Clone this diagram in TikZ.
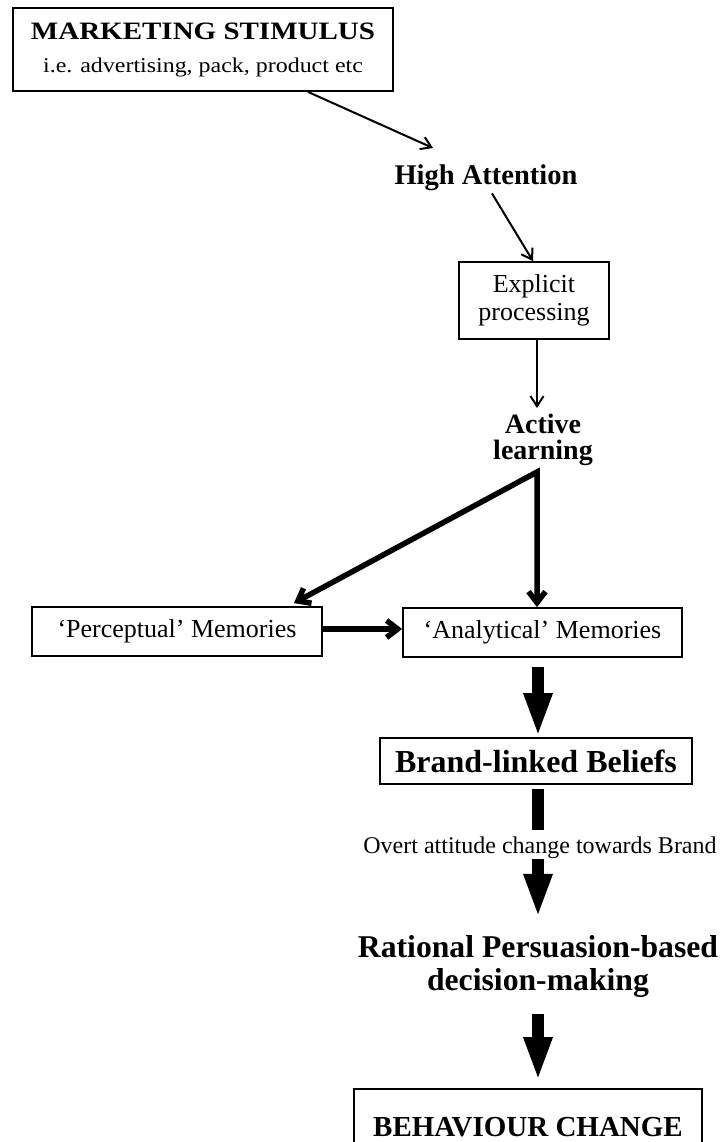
\documentclass[tikz,border=0pt]{standalone}
\usepackage{fontspec}
\setmainfont{Liberation Serif}
\usetikzlibrary{arrows.meta}
\begin{document}
\begin{tikzpicture}[x=1pt,y=-1pt,
  box/.style={draw, line width=1.8pt, inner sep=0pt, align=center},
  thinarrow/.style={line width=2pt, -{Straight Barb[length=10pt,width=13pt]}},
  medline/.style={line width=5.5pt},
  medtip/.tip={Straight Barb[length=11pt,width=17pt]},
  blockarrow/.style={line width=12.5pt, -{Triangle[length=44pt,width=26pt]}}
]
\useasboundingbox (0,0) rectangle (724,1142);

% nodes
\node[box, minimum width=380pt, minimum height=83pt, font=\fontsize{25}{33}\selectfont] (ms) at (203,49.5)
  {\scalebox{1.16}[1]{\bfseries MARKETING STIMULUS}\\\scalebox{1.14}[1]{\fontsize{21}{33}\selectfont i.e. advertising, pack, product etc}};
\node[anchor=base, inner sep=2pt, font=\fontsize{28.5}{30}\selectfont\bfseries] (ha) at (486,185) {High Attention};
\node[box, minimum width=150pt, minimum height=77pt, font=\fontsize{26}{28}\selectfont] (ep) at (534,300.5) {Explicit\\processing};
\node[align=center, inner xsep=2pt, inner ysep=6pt, font=\fontsize{28}{26}\selectfont\bfseries] (al) at (543,440) {Active\\learning};
\coordinate (apex) at (537,472);
\node[box, minimum width=290pt, minimum height=49pt, font=\fontsize{26}{28}\selectfont] (pm) at (177,631.5) {‘Perceptual’ Memories};
\node[box, minimum width=279pt, minimum height=49pt, font=\fontsize{26}{28}\selectfont] (am) at (542.5,632.5) {‘Analytical’ Memories};
\node[box, minimum width=312pt, minimum height=46pt, font=\fontsize{32}{34}\selectfont\bfseries] (bb) at (536,761) {Brand-linked Beliefs};
\node[align=center, inner xsep=0pt, inner ysep=17pt, font=\fontsize{31.7}{33}\selectfont\bfseries] (rp) at (538,966) {Rational Persuasion-based\\decision-making};
\node[box, minimum width=348pt, minimum height=76pt, font=\fontsize{29}{30}\selectfont\bfseries] (bc) at (528,1127) {BEHAVIOUR CHANGE};

% connectors
\draw[thinarrow] (ms.-22.5) -- ([xshift=-53pt,yshift=15pt]ha.north);
\draw[thinarrow] ([xshift=6pt]ha.south) -- ([xshift=-1pt]ep.north);
\draw[thinarrow] (ep.south -| apex) -- (al.north -| apex);
\draw[medline, line join=miter, medtip-medtip] ([xshift=-29pt,yshift=3pt]pm.north east) -- (apex) -- (am.north -| apex);
\draw[medline, -medtip] ([yshift=2.5pt]pm.east) -- ([yshift=2.5pt]pm.east -| am.west);
\draw[blockarrow] ([yshift=-9pt]am.south -| rp) -- (bb.north -| rp);
\draw[blockarrow] ([yshift=-4pt]bb.south -| rp) -- (rp.north);
\draw[blockarrow] (rp.south) -- ([yshift=7pt]bc.north -| rp);

\node[anchor=base, fill=white, inner xsep=2pt, inner ysep=0pt, text height=23pt, text depth=6pt, font=\fontsize{24}{26}\selectfont] (ov) at (540,853) {Overt attitude change towards Brand};
\end{tikzpicture}
\end{document}
